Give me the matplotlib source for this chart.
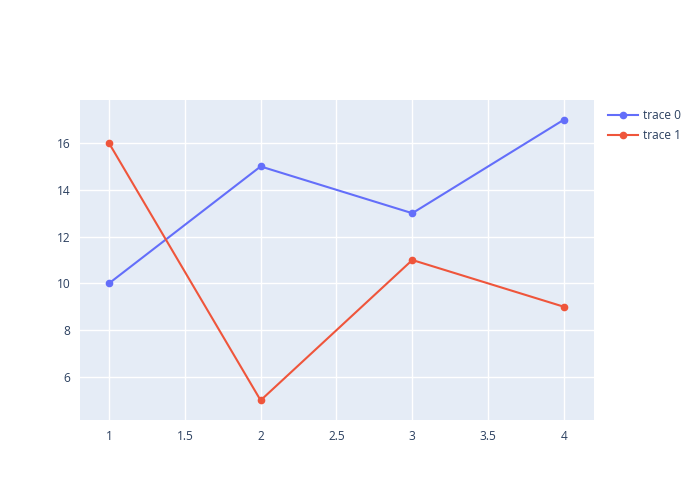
import matplotlib.pyplot as plt

plt.rcParams["font.family"] = ["Open Sans", "DejaVu Sans"]

# Data
x_vals = [1, 2, 3, 4]
trace0 = [10, 15, 13, 17]
trace1 = [16, 5, 11, 9]
names = ["trace 0", "trace 1"]

fig = plt.figure(figsize=(7, 5), dpi=100)
ax = fig.add_axes([80 / 700, 80 / 500, 514 / 700, 320 / 500])
ax.set_facecolor("#E5ECF6")

ax.plot(x_vals, trace0, color="#636efa", marker="o", markersize=4.5, linewidth=1.5, label=names[0])
ax.plot(x_vals, trace1, color="#EF553B", marker="o", markersize=4.5, linewidth=1.5, label=names[1])

ax.set_xlim(0.809, 4.198)
ax.set_ylim(4.16, 17.84)
ax.set_xticks([1, 1.5, 2, 2.5, 3, 3.5, 4])
ax.set_xticklabels(["1", "1.5", "2", "2.5", "3", "3.5", "4"])
ax.set_yticks([6, 8, 10, 12, 14, 16])

ax.grid(True, color="white", linewidth=1)
ax.set_axisbelow(True)
for s in ax.spines.values():
    s.set_visible(False)
ax.tick_params(length=0, colors="#2a3f5f", labelsize=8.6, pad=7)

fig.legend(loc="upper left", bbox_to_anchor=(0.862, 0.792), frameon=False,
           fontsize=8.6, labelcolor="#2a3f5f", handlelength=2.5, handletextpad=0.45,
           labelspacing=0.6, borderaxespad=0)

plt.savefig("out.png", dpi=100)
